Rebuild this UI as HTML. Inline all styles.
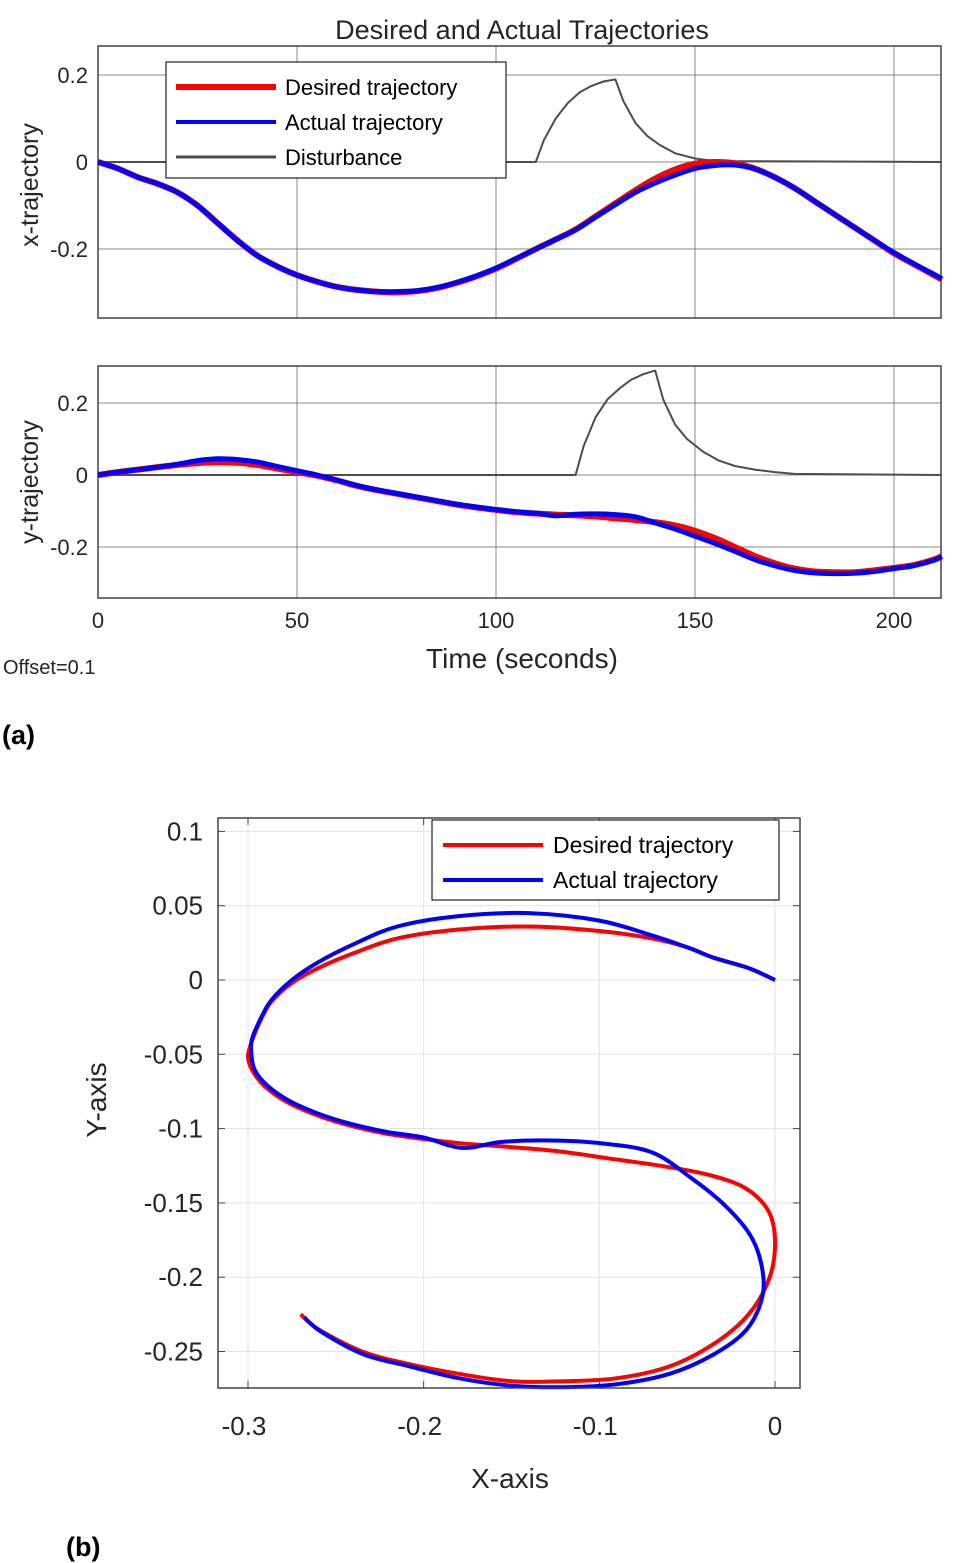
<!DOCTYPE html>
<html><head><meta charset="utf-8"><style>
html,body{margin:0;padding:0;background:#fff;}
svg{display:block;font-family:"Liberation Sans",Arial,sans-serif;}
</style></head><body>
<svg id="fig" width="967" height="1563" viewBox="0 0 967 1563" xmlns="http://www.w3.org/2000/svg"></svg>
<script>
// ---- data ----
const timeT = [0,5,10,15,20,25,30,35,40,45,50,55,60,65,70,75,80,85,90,95,100,105,110,115,120,125,130,135,140,145,150,155,160,165,170,175,180,185,190,195,200,205,210,212];
const xDesired = [0,-0.015,-0.035,-0.05,-0.07,-0.1,-0.14,-0.18,-0.215,-0.24,-0.26,-0.275,-0.287,-0.294,-0.298,-0.3,-0.297,-0.29,-0.278,-0.263,-0.245,-0.223,-0.2,-0.178,-0.155,-0.125,-0.095,-0.065,-0.038,-0.017,-0.004,0,-0.003,-0.015,-0.035,-0.06,-0.09,-0.12,-0.15,-0.18,-0.21,-0.235,-0.26,-0.27];
const xActual = [0,-0.015,-0.035,-0.05,-0.07,-0.1,-0.14,-0.18,-0.215,-0.24,-0.26,-0.275,-0.287,-0.294,-0.298,-0.298,-0.296,-0.289,-0.277,-0.262,-0.244,-0.222,-0.2,-0.178,-0.156,-0.127,-0.098,-0.07,-0.048,-0.03,-0.015,-0.008,-0.007,-0.016,-0.035,-0.06,-0.09,-0.12,-0.15,-0.18,-0.208,-0.234,-0.258,-0.268];
const yDesired = [0,0.008,0.015,0.022,0.028,0.033,0.036,0.034,0.028,0.018,0.008,-0.002,-0.015,-0.03,-0.042,-0.052,-0.062,-0.072,-0.082,-0.09,-0.097,-0.103,-0.107,-0.11,-0.112,-0.115,-0.12,-0.125,-0.131,-0.14,-0.155,-0.175,-0.2,-0.225,-0.245,-0.26,-0.268,-0.27,-0.27,-0.265,-0.258,-0.25,-0.235,-0.225];
const yActual = [0,0.008,0.015,0.022,0.03,0.04,0.045,0.043,0.036,0.024,0.012,0.0,-0.014,-0.029,-0.041,-0.051,-0.061,-0.071,-0.081,-0.089,-0.096,-0.102,-0.106,-0.113,-0.109,-0.108,-0.11,-0.116,-0.133,-0.15,-0.17,-0.19,-0.212,-0.235,-0.252,-0.265,-0.272,-0.274,-0.273,-0.268,-0.26,-0.252,-0.237,-0.227];
const distXT = [0,110,112,115,118,121,124,127,130,132,135,138,141,145,150,155,212];
const distXV = [0,0,0.05,0.1,0.135,0.16,0.175,0.185,0.19,0.14,0.09,0.06,0.04,0.02,0.008,0.002,0];
const distYT = [0,120,122,125,128,131,134,137,140,142,145,148,152,156,160,165,170,175,212];
const distYV = [0,0,0.08,0.16,0.21,0.24,0.265,0.28,0.29,0.21,0.14,0.1,0.065,0.04,0.025,0.015,0.008,0.003,0];
const timeTicks = [0,50,100,150,200];
const xTrajTicks = [0.2,0,-0.2];
const yTrajTicks = [0.2,0,-0.2];
const bXTicks = [-0.3,-0.2,-0.1,0];
const bYTicks = [0.1,0.05,0,-0.05,-0.1,-0.15,-0.2,-0.25];
const bYTickLabels = ["0.1","0.05","0","-0.05","-0.1","-0.15","-0.2","-0.25"];

const NS="http://www.w3.org/2000/svg";
const svg=document.getElementById('fig');
function mk(tag,attrs,parent){const e=document.createElementNS(NS,tag);for(const k in attrs)e.setAttribute(k,attrs[k]);(parent||svg).appendChild(e);return e;}
function txt(s,attrs,parent){const e=mk('text',attrs,parent);e.textContent=s;return e;}
function lin(d0,d1,r0,r1){return v=>r0+(v-d0)/(d1-d0)*(r1-r0);}
function path(xs,ys,fx,fy){return xs.map((v,i)=>(i?'L':'M')+fx(v).toFixed(1)+','+fy(ys[i]).toFixed(1)).join('');}
function smooth(xs,ys,fx,fy){
  const P=xs.map((v,i)=>[fx(v),fy(ys[i])]);
  let d='M'+P[0][0].toFixed(1)+','+P[0][1].toFixed(1);
  for(let i=0;i<P.length-1;i++){
    const p0=P[Math.max(0,i-1)],p1=P[i],p2=P[i+1],p3=P[Math.min(P.length-1,i+2)];
    const c1=[p1[0]+(p2[0]-p0[0])/6,p1[1]+(p2[1]-p0[1])/6];
    const c2=[p2[0]-(p3[0]-p1[0])/6,p2[1]-(p3[1]-p1[1])/6];
    d+='C'+c1[0].toFixed(1)+','+c1[1].toFixed(1)+' '+c2[0].toFixed(1)+','+c2[1].toFixed(1)+' '+p2[0].toFixed(1)+','+p2[1].toFixed(1);
  }
  return d;
}

// ---- panel (a) ----
const tX=lin(0,200,98,894);
function timePanel(top,bot,y0px,y02px,ticks,name,ylabel,ycenter){
  const g=mk('g',{});
  
  
  const fy=lin(0,0.2,y0px,y02px);
  mk('rect',{x:98,y:top,width:843,height:bot-top,fill:'#fff'},g);
  timeTicks.forEach(t=>{mk('line',{x1:tX(t),x2:tX(t),y1:top,y2:bot,stroke:'#8a8a8a','stroke-width':1},g);});
  ticks.forEach(v=>{
    mk('line',{x1:98,x2:941,y1:fy(v),y2:fy(v),stroke:'#8a8a8a','stroke-width':1},g);
    const l=txt(v===0?'0':v.toFixed(1),{x:88,y:fy(v)+8,'text-anchor':'end','font-size':22,fill:'#262626'},g);
    
    
  });
  mk('rect',{x:98,y:top,width:843,height:bot-top,fill:'none',stroke:'#444','stroke-width':1.5},g);
  const yl=txt(ylabel,{x:0,y:0,transform:`translate(38,${ycenter}) rotate(-90)`,'text-anchor':'middle','font-size':25,fill:'#262626'},g);
  
  
  return {g,fy};
}
const p1=timePanel(46,318,162,75,xTrajTicks,'x-trajectory-panel','x-trajectory',185);
const p2=timePanel(366,598,475,403,yTrajTicks,'y-trajectory-panel','y-trajectory',482);
function series(g,xs,ys,fx,fy,color,w,name,sm){
  const p=mk('path',{d:sm?smooth(xs,ys,fx,fy):path(xs,ys,fx,fy),fill:'none',stroke:color,'stroke-width':w,'stroke-linejoin':'round'},g);
  
  
}
series(p1.g,distXT,distXV,tX,p1.fy,'#4d4d4d',2,'disturbance-x-line',false);
series(p1.g,timeT,xDesired,tX,p1.fy,'#ff0000',6,'desired-x-line',true);
series(p1.g,timeT,xActual,tX,p1.fy,'#0000ff',5,'actual-x-line',true);
series(p2.g,distYT,distYV,tX,p2.fy,'#4d4d4d',2,'disturbance-y-line',false);
series(p2.g,timeT,yDesired,tX,p2.fy,'#ff0000',6,'desired-y-line',true);
series(p2.g,timeT,yActual,tX,p2.fy,'#0000ff',5,'actual-y-line',true);
timeTicks.forEach(t=>{
  const l=txt(String(t),{x:tX(t),y:628,'text-anchor':'middle','font-size':22,fill:'#262626'});
  
  
});
// legend a
const lg=mk('g',{});


mk('rect',{x:166,y:62,width:340,height:116,fill:'#fff',stroke:'#222','stroke-width':1.2},lg);
[['Desired trajectory','#ff0000',6,87],['Actual trajectory','#0000ff',4,122],['Disturbance','#4d4d4d',3,157]].forEach(e=>{
  const ge=mk('g',{},lg);
  
  
  mk('line',{x1:176,x2:276,y1:e[3],y2:e[3],stroke:e[1],'stroke-width':e[2]},ge);
  txt(e[0],{x:285,y:e[3]+8,'font-size':22,fill:'#000'},ge);
});
let t=txt('Desired and Actual Trajectories',{x:522,y:39,'text-anchor':'middle','font-size':27,fill:'#262626'});

t=txt('Time (seconds)',{x:522,y:668,'text-anchor':'middle','font-size':28,fill:'#262626'});

t=txt('Offset=0.1',{x:3,y:674,'font-size':20,fill:'#262626'});

t=txt('(a)',{x:2,y:744,'font-size':27,'font-weight':'bold',fill:'#000'});


// ---- panel (b) ----
const bX=lin(-0.3,0,248,775);
const bY=lin(0,0.05,980,905.7);
const gb=mk('g',{});


bXTicks.forEach(v=>{
  mk('line',{x1:bX(v),x2:bX(v),y1:818,y2:1388,stroke:'#e3e3e3','stroke-width':1},gb);
  mk('line',{x1:bX(v),x2:bX(v),y1:1388,y2:1381,stroke:'#444'},gb);
  mk('line',{x1:bX(v),x2:bX(v),y1:818,y2:825,stroke:'#444'},gb);
  const l=txt(v===0?'0':v.toFixed(1),{x:bX(v)-(v<0?4:0),y:1435,'text-anchor':'middle','font-size':26,fill:'#262626'},gb);
  
  
});
bYTicks.forEach((v,i)=>{
  mk('line',{x1:218,x2:800,y1:bY(v),y2:bY(v),stroke:'#e3e3e3','stroke-width':1},gb);
  mk('line',{x1:218,x2:225,y1:bY(v),y2:bY(v),stroke:'#444'},gb);
  mk('line',{x1:793,x2:800,y1:bY(v),y2:bY(v),stroke:'#444'},gb);
  const l=txt(bYTickLabels[i],{x:203,y:bY(v)+9,'text-anchor':'end','font-size':26,fill:'#262626'},gb);
  
  
});
series(gb,xDesired,yDesired,bX,bY,'#ff0000',4,'desired-xy-line',true);
series(gb,xActual,yActual,bX,bY,'#0000ff',4,'actual-xy-line',true);
mk('rect',{x:218,y:818,width:582,height:570,fill:'none',stroke:'#444','stroke-width':1.5},gb);
const lb=mk('g',{});


mk('rect',{x:432,y:820,width:347,height:80,fill:'#fff',stroke:'#222','stroke-width':1.2},lb);
[['Desired trajectory','#ff0000',845],['Actual trajectory','#0000ff',880]].forEach(e=>{
  const ge=mk('g',{},lb);
  
  
  mk('line',{x1:443,x2:543,y1:e[2],y2:e[2],stroke:e[1],'stroke-width':4},ge);
  txt(e[0],{x:553,y:e[2]+8,'font-size':23,fill:'#000'},ge);
});
t=txt('Y-axis',{x:0,y:0,transform:'translate(106,1100) rotate(-90)','text-anchor':'middle','font-size':28,fill:'#262626'});

t=txt('X-axis',{x:510,y:1488,'text-anchor':'middle','font-size':28,fill:'#262626'});

t=txt('(b)',{x:66,y:1556,'font-size':27,'font-weight':'bold',fill:'#000'});

</script>
</body></html>
